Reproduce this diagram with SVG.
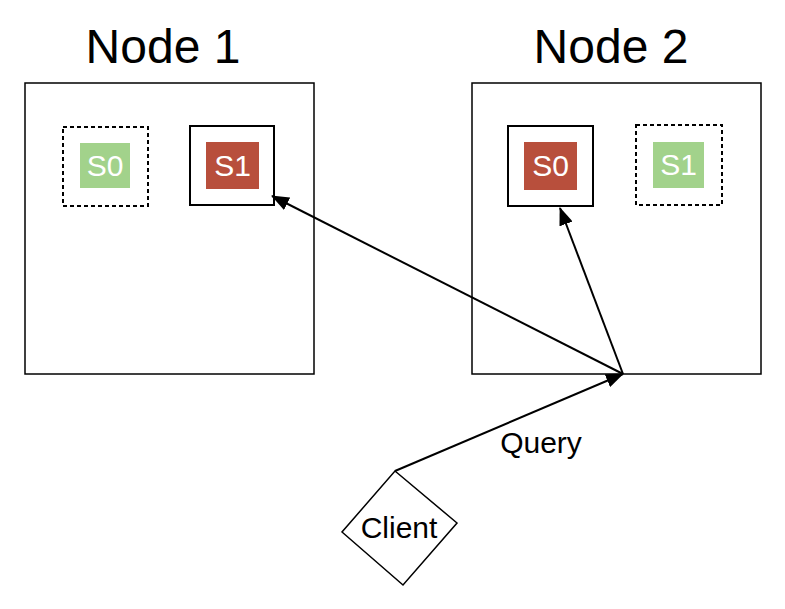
<svg xmlns="http://www.w3.org/2000/svg" width="785" height="609" viewBox="0 0 785 609">
<style>
.node{fill:#fff;stroke:#000;stroke-width:1.5}
.title{font-family:"Liberation Sans",Arial,sans-serif;font-size:48px;fill:#000;text-anchor:middle}
.solid{fill:#fff;stroke:#000;stroke-width:2}
.dash{fill:#fff;stroke:#000;stroke-width:2;stroke-dasharray:4,3}
.green{fill:#a2d28b}
.red{fill:#b84f3c}
.sh{font-family:"Liberation Sans",Arial,sans-serif;font-size:30px;fill:#fff;text-anchor:middle}
.lbl{font-family:"Liberation Sans",Arial,sans-serif;font-size:30px;fill:#000;text-anchor:middle}
.conn{stroke:#000;stroke-width:2;fill:none;marker-end:url(#arr)}
</style>
<defs>
<marker id="arr" viewBox="0 0 18 14" refX="17" refY="7" markerWidth="18" markerHeight="14" markerUnits="userSpaceOnUse" orient="auto">
<path d="M0,0 L18,7 L0,14 z" fill="#000"/>
</marker>
</defs>
<rect width="785" height="609" fill="#fff"/>
<g id="node1">
<text class="title" x="163" y="63">Node 1</text>
<rect class="node" x="25" y="83" width="289" height="291"/>
<g id="node1-s0">
<rect class="dash" x="63" y="127" width="85" height="79"/>
<rect class="green" x="80" y="143" width="50" height="45"/>
<text class="sh" x="105" y="176">S0</text>
</g>
<g id="node1-s1">
<rect class="solid" x="190" y="126" width="84" height="79"/>
<rect class="red" x="206" y="142" width="53" height="47"/>
<text class="sh" x="232.5" y="176">S1</text>
</g>
</g>
<g id="node2">
<text class="title" x="611" y="63">Node 2</text>
<rect class="node" x="472" y="83" width="289" height="291"/>
<g id="node2-s0">
<rect class="solid" x="508" y="126" width="85" height="80"/>
<rect class="red" x="524" y="142" width="53" height="48"/>
<text class="sh" x="550.5" y="176">S0</text>
</g>
<g id="node2-s1">
<rect class="dash" x="636" y="125" width="86" height="80"/>
<rect class="green" x="653" y="142" width="51" height="46"/>
<text class="sh" x="678.5" y="175">S1</text>
</g>
</g>
<g id="client">
<polygon points="395,471 457,523 403,585 342,532" fill="#fff" stroke="#000" stroke-width="1.5"/>
<text class="lbl" x="399" y="538">Client</text>
</g>
<g id="connectors">
<line class="conn" x1="623" y1="374" x2="272" y2="196"/>
<line class="conn" x1="623" y1="374" x2="560" y2="208"/>
<line class="conn" x1="395" y1="471" x2="623" y2="374"/>
<text class="lbl" x="541" y="453">Query</text>
</g>
</svg>
